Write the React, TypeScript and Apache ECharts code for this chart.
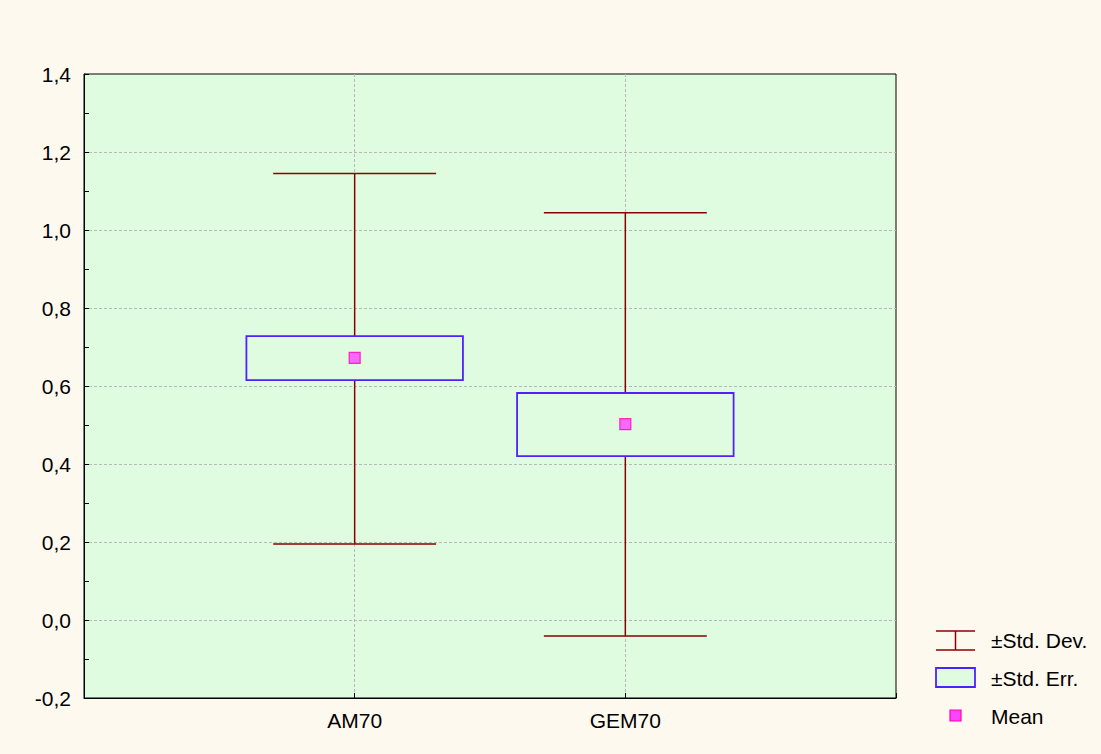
import React, { useEffect, useRef } from "react";
import * as echarts from "echarts";

const categories = ["AM70", "GEM70"];
const categoryPositions = [1, 2];
const means = [0.672, 0.502];
const stdErrLow = [0.615, 0.42];
const stdErrHigh = [0.728, 0.582];
const stdDevLow = [0.195, -0.041];
const stdDevHigh = [1.145, 1.044];
const yTicks = { min: -0.2, max: 1.4, interval: 0.2 };

const FONT = "Liberation Sans, Arial, sans-serif";
const FS = 21;

export default function App() {
  const ref = useRef<HTMLDivElement>(null);
  useEffect(() => {
    const chart = echarts.init(ref.current!, null, { renderer: "svg" });
    const boxData = categoryPositions.map((x, i) => [
      x,
      stdDevLow[i],
      stdDevHigh[i],
      stdErrLow[i],
      stdErrHigh[i],
    ]);
    const meanData = categoryPositions.map((x, i) => [x, means[i]]);
    const gridLine = { color: "#B8B8B8", type: [3, 2], width: 1 };
    const option: any = {
      animation: false,
      backgroundColor: "#FEF9EF",
      textStyle: { fontFamily: FONT },
      grid: {
        left: 84,
        top: 74,
        width: 812,
        height: 624,
        show: true,
        backgroundColor: "#E0FCE0",
        borderColor: "#000",
        borderWidth: 1,
      },
      xAxis: {
        type: "value",
        min: 0,
        max: 3,
        interval: 1,
        axisLine: { show: true, onZero: false, lineStyle: { color: "#000", width: 1 } },
        axisTick: { show: true, inside: true, length: 5, lineStyle: { color: "#000" } },
        axisLabel: {
          color: "#000",
          fontSize: FS,
          fontFamily: FONT,
          margin: 12,
          formatter: (v: number) => {
            const idx = categoryPositions.indexOf(v);
            return idx >= 0 ? categories[idx] : "";
          },
        },
        splitLine: { show: true, showMinLine: false, showMaxLine: false, lineStyle: gridLine },
      },
      yAxis: {
        type: "value",
        min: yTicks.min,
        max: yTicks.max,
        interval: yTicks.interval,
        axisLine: { show: true, onZero: false, lineStyle: { color: "#000", width: 1 } },
        axisTick: { show: true, inside: true, length: 5, lineStyle: { color: "#000" } },
        minorTick: { show: true, splitNumber: 2, length: 5, lineStyle: { color: "#000" } },
        axisLabel: {
          color: "#000",
          fontSize: FS,
          fontFamily: FONT,
          margin: 13,
          formatter: (v: number) => v.toFixed(1).replace(".", ","),
        },
        splitLine: { show: true, showMinLine: false, showMaxLine: false, lineStyle: gridLine },
      },
      series: [
        {
          type: "custom",
          name: "±Std. Dev.",
          data: boxData,
          encode: { x: 0, y: [1, 2, 3, 4] },
          renderItem: (params: any, api: any) => {
            const x = api.value(0);
            const lo = api.coord([x, api.value(1)]);
            const hi = api.coord([x, api.value(2)]);
            const seLo = api.coord([x, api.value(3)]);
            const seHi = api.coord([x, api.value(4)]);
            const capHalf = api.size([0.602, 0])[0] / 2;
            const boxHalf = api.size([0.8, 0])[0] / 2;
            const wStyle = { stroke: "#8B0000", lineWidth: 1.5 };
            return {
              type: "group",
              children: [
                { type: "line", shape: { x1: lo[0], y1: lo[1], x2: hi[0], y2: hi[1] }, style: wStyle },
                { type: "line", shape: { x1: hi[0] - capHalf, y1: hi[1], x2: hi[0] + capHalf, y2: hi[1] }, style: wStyle },
                { type: "line", shape: { x1: lo[0] - capHalf, y1: lo[1], x2: lo[0] + capHalf, y2: lo[1] }, style: wStyle },
                {
                  type: "rect",
                  shape: {
                    x: seHi[0] - boxHalf,
                    y: seHi[1],
                    width: boxHalf * 2,
                    height: seLo[1] - seHi[1],
                  },
                  style: { fill: "#E0FCE0", stroke: "#5020FF", lineWidth: 1.8 },
                },
              ],
            };
          },
          z: 2,
        },
        {
          type: "scatter",
          name: "Mean",
          data: meanData,
          symbol: "rect",
          symbolSize: 11,
          itemStyle: { color: "#FF44FF", borderColor: "#FF00B0", borderWidth: 1.2 },
          z: 3,
        },
      ],
      graphic: [
        { type: "line", shape: { x1: 936, y1: 631, x2: 975, y2: 631 }, style: { stroke: "#8B0000", lineWidth: 1.5 } },
        { type: "line", shape: { x1: 936, y1: 650, x2: 975, y2: 650 }, style: { stroke: "#8B0000", lineWidth: 1.5 } },
        { type: "line", shape: { x1: 955.5, y1: 631, x2: 955.5, y2: 650 }, style: { stroke: "#8B0000", lineWidth: 1.5 } },
        {
          type: "text",
          x: 991,
          y: 640,
          style: { text: "±Std. Dev.", fill: "#000", font: `${FS}px ${FONT}`, textVerticalAlign: "middle" },
        },
        {
          type: "rect",
          shape: { x: 936, y: 668, width: 39, height: 19 },
          style: { fill: "#E0FCE0", stroke: "#5020FF", lineWidth: 1.8 },
        },
        {
          type: "text",
          x: 991,
          y: 678,
          style: { text: "±Std. Err.", fill: "#000", font: `${FS}px ${FONT}`, textVerticalAlign: "middle" },
        },
        {
          type: "rect",
          shape: { x: 950, y: 710, width: 11, height: 11 },
          style: { fill: "#FF44FF", stroke: "#FF00B0", lineWidth: 1.2 },
        },
        {
          type: "text",
          x: 991,
          y: 716,
          style: { text: "Mean", fill: "#000", font: `${FS}px ${FONT}`, textVerticalAlign: "middle" },
        },
      ],
    };
    chart.setOption(option);
    return () => chart.dispose();
  }, []);
  return (
    <div
      ref={ref}
      style={{ position: "fixed", left: 0, top: 0, width: 1101, height: 754 }}
    />
  );
}
